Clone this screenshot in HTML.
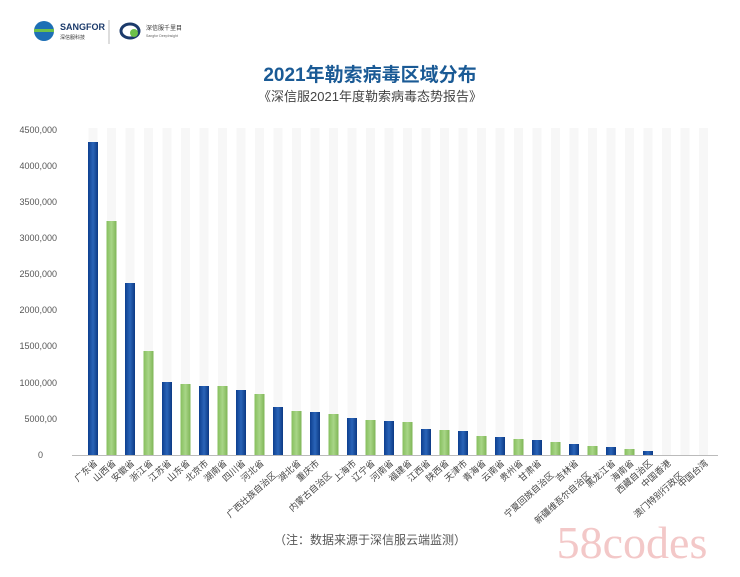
<!DOCTYPE html>
<html><head><meta charset="utf-8"><style>
body{margin:0;background:#fff;width:740px;height:572px;overflow:hidden;font-family:"Liberation Sans","Noto Sans CJK SC",sans-serif}
</style></head><body>
<svg width="740" height="572" viewBox="0 0 740 572" xmlns="http://www.w3.org/2000/svg" font-family="Liberation Sans, Noto Sans CJK SC, sans-serif">
<defs>
<linearGradient id="b" x1="0" x2="1"><stop offset="0" stop-color="#0d3f8f"/><stop offset="0.5" stop-color="#2a64b8"/><stop offset="1" stop-color="#0c3a84"/></linearGradient>
<linearGradient id="g" x1="0" x2="1"><stop offset="0" stop-color="#86bf5e"/><stop offset="0.5" stop-color="#a8d587"/><stop offset="1" stop-color="#7fb656"/></linearGradient>
</defs>
<circle cx="44" cy="31" r="10" fill="#1d6fb5"/><path d="M34 29h20v3H34z" fill="#6cc04a"/>
<text x="60" y="30" font-size="9" font-weight="bold" fill="#1b3a6b">SANGFOR</text>
<text x="60" y="39" font-size="5" fill="#333">深信服科技</text>
<line x1="109" y1="20" x2="109" y2="44" stroke="#bbb"/>
<ellipse cx="130" cy="31" rx="9" ry="7" fill="none" stroke="#1b3a6b" stroke-width="3"/><circle cx="134" cy="33" r="4" fill="#6cc04a"/>
<text x="146" y="30" font-size="6" fill="#333">深信服千里目</text>
<text x="146" y="37" font-size="3.5" fill="#666">Sangfor DeepInsight</text>
<text x="370" y="81" text-anchor="middle" font-size="19" font-weight="bold" fill="#1a5a95">2021年勒索病毒区域分布</text>
<text x="370" y="101" text-anchor="middle" font-size="13" fill="#444">《深信服2021年度勒索病毒态势报告》</text>
<g id="stripes"></g>
<g font-size="9" fill="#555" text-anchor="end">
<text x="57" y="133">4500,000</text><text x="57" y="169">4000,000</text><text x="57" y="205">3500,000</text><text x="57" y="241">3000,000</text><text x="57" y="277">2500,000</text><text x="57" y="313">2000,000</text><text x="57" y="349">1500,000</text><text x="57" y="386">1000,000</text><text x="57" y="422">5000,00</text><text x="43" y="458">0</text>
</g>
<g id="bars"></g>
<line x1="72" y1="455.5" x2="718" y2="455.5" stroke="#bbb"/>
<g id="labels" font-size="9" fill="#444"></g>
<text x="370" y="544" text-anchor="middle" font-size="12" fill="#555">（注：数据来源于深信服云端监测）</text>
<text x="632" y="558" text-anchor="middle" font-size="46" fill="#f3c8c8" font-family="Liberation Serif, serif">58codes</text>
</svg>
<script>
var names=["广东省","山西省","安徽省","浙江省","江苏省","山东省","北京市","湖南省","四川省","河北省","广西壮族自治区","湖北省","重庆市","内蒙古自治区","上海市","辽宁省","河南省","福建省","江西省","陕西省","天津市","青海省","云南省","贵州省","甘肃省","宁夏回族自治区","吉林省","新疆维吾尔自治区","黑龙江省","海南省","西藏自治区","中国香港","澳门特别行政区","中国台湾"];
var tops=[142,221,283,351,382,384,386,386,390,394,407,411,412,414,418,420,421,422,429,430,431,436,437,439,440,442,444,446,447,449,451,455,455,455];
var s="",b="",l="";
for(var i=0;i<34;i++){var cx=93+i*18.5;
s+='<rect x="'+(cx-4.5)+'" y="128" width="9" height="327" fill="#f7f7f7"/>';
if(tops[i]<455)b+='<rect x="'+(cx-5)+'" y="'+tops[i]+'" width="10" height="'+(455-tops[i])+'" fill="url(#'+(i%2?'g':'b')+')"/>';
var off=(i==10||i==13||i==25||i==27||i==32)?12:0;
l+='<text transform="translate('+(cx+5-off*0.5)+','+(464+off)+') rotate(-42)" text-anchor="end">'+names[i]+'</text>';}
document.getElementById('stripes').innerHTML=s;
document.getElementById('bars').innerHTML=b;
document.getElementById('labels').innerHTML=l;
</script>
</body></html>
